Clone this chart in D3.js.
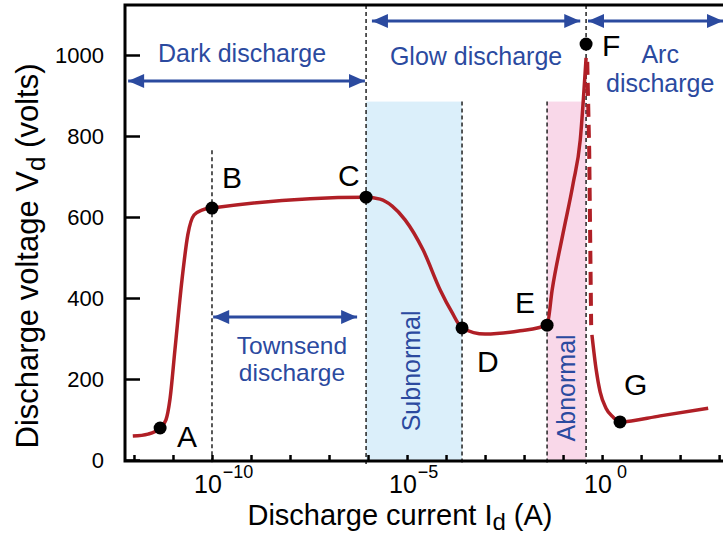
<!DOCTYPE html>
<html>
<head>
<meta charset="utf-8">
<script src="https://cdn.jsdelivr.net/npm/d3@7"></script>
<style>
body { margin: 0; background: #fff; }
text { font-family: "Liberation Sans", Arial, sans-serif; }
</style>
</head>
<body>
<svg id="chart" width="723" height="537"></svg>
<script>
// V-I curve of a gas discharge (current as log10 of amps)
var mainLogI = [-12.03, -11.64, -11.33, -11.18, -11.08, -10.95, -10.77, -10.62, -10.46, -10.26, -10,
    -6.05, -5.69, -5.38, -5.05, -4.59, -4.15, -3.85, -3.59, -3.0, -2.10, -1.41,
    -1.28, -1.0, -0.74, -0.56, -0.41];
var mainV = [59, 64, 79, 99, 148, 272, 444, 556, 605, 617, 622,
    649, 644, 627, 593, 519, 420, 365, 326, 311, 319, 333,
    420, 560, 684, 790, 993];
// dashed jump F -> arc
var dashLogI = [-0.38, -0.33, -0.28];
var dashV = [983, 765, 333];
// arc branch
var arcLogI = [-0.26, -0.15, -0.05, 0.10, 0.28, 0.46, 1.49, 2.72];
var arcV = [309, 222, 168, 128, 106, 94, 109, 128];

// named points
var pointNames = ["A", "B", "C", "D", "E", "F", "G"];
var pointLogI = [-11.33, -10, -6.05, -3.59, -1.41, -0.41, 0.46];
var pointV = [79, 622, 649, 326, 333, 1027, 94];

// ticks
var yTicks = [0, 200, 400, 600, 800, 1000];
var xTickExp = [-12, -11, -10, -9, -8, -7, -6, -5, -4, -3, -2, -1, 0, 1, 2, 3];
var xLabelExp = [-10, -5, 0];

// region borders (log10 I) and tops (V), null = to the frame top
var borderLogI = [-10, -6.05, -3.59, -1.41, -0.41];
var borderTopV = [765, null, 885, 885, null];

// shaded bands
var bandNames = ["Subnormal", "Abnormal"];
var bandFrom = [-6.05, -1.41];
var bandTo = [-3.59, -0.41];
var bandTopV = [885, 885];

// double arrows
var arrowFrom = [-12.15, -5.9, -0.36, -9.97];
var arrowTo = [-6.08, -0.56, 3.1, -6.28];
var arrowV = [936, 1084, 1084, 353];

var blue = "#2b4a9f", red = "#b01f26";

var svg = d3.select("#chart");

var x = d3.scaleLog().domain([Math.pow(10, -12.23), Math.pow(10, 3.1)]).range([125, 723]);
var y = d3.scaleLinear().domain([0, 1000]).range([460, 55]);
var yTop = 5, yBottom = 461;

function toPts(logs, vs) {
    return logs.map(function (l, i) { return [Math.pow(10, l), vs[i]]; });
}
function xl(l) { return x(Math.pow(10, l)); }

// bands
svg.selectAll(".band")
    .data(bandNames)
    .enter().append("rect")
    .attr("class", "band")
    .attr("x", function (d, i) { return xl(bandFrom[i]); })
    .attr("width", function (d, i) { return xl(bandTo[i]) - xl(bandFrom[i]); })
    .attr("y", function (d, i) { return y(bandTopV[i]); })
    .attr("height", function (d, i) { return yBottom - y(bandTopV[i]); })
    .attr("fill", function (d, i) { return i == 0 ? "#dbeffa" : "#f9d8e9"; });

// dashed region borders
svg.selectAll(".border")
    .data(borderLogI)
    .enter().append("line")
    .attr("class", "border")
    .attr("x1", function (d) { return xl(d); })
    .attr("x2", function (d) { return xl(d); })
    .attr("y1", function (d, i) { return borderTopV[i] == null ? yTop : y(borderTopV[i]); })
    .attr("y2", yBottom + 4)
    .attr("stroke", "#222")
    .attr("stroke-width", 1.5)
    .attr("stroke-dasharray", "4,3");

// curve
var lineSmooth = d3.line()
    .x(function (d) { return x(d[0]); })
    .y(function (d) { return y(d[1]); })
    .curve(d3.curveMonotoneX);
var lineStraight = d3.line()
    .x(function (d) { return x(d[0]); })
    .y(function (d) { return y(d[1]); });

svg.append("path")
    .attr("d", lineSmooth(toPts(mainLogI, mainV)))
    .attr("fill", "none").attr("stroke", red).attr("stroke-width", 3.5)
    .attr("stroke-linejoin", "round");
svg.append("path")
    .attr("d", lineStraight(toPts(dashLogI, dashV)))
    .attr("fill", "none").attr("stroke", red).attr("stroke-width", 4)
    .attr("stroke-dasharray", "13,8");
svg.append("path")
    .attr("d", lineSmooth(toPts(arcLogI, arcV)))
    .attr("fill", "none").attr("stroke", red).attr("stroke-width", 3.5);

// points + letters
var labelDx = [17, 10, -28, 15, -32, 16, 4];
var labelDy = [19, -20, -11, 44, -12, 12, -27];
svg.selectAll(".pt")
    .data(pointNames)
    .enter().append("circle")
    .attr("class", "pt")
    .attr("cx", function (d, i) { return xl(pointLogI[i]); })
    .attr("cy", function (d, i) { return y(pointV[i]); })
    .attr("r", 6.5)
    .attr("fill", "#000");
svg.selectAll(".ptlabel")
    .data(pointNames)
    .enter().append("text")
    .attr("class", "ptlabel")
    .attr("x", function (d, i) { return xl(pointLogI[i]) + labelDx[i]; })
    .attr("y", function (d, i) { return y(pointV[i]) + labelDy[i]; })
    .attr("font-size", 30)
    .attr("fill", "#000")
    .text(function (d) { return d; });

// arrows
var defs = svg.append("defs");
["arrEnd", "arrStart"].forEach(function (id, k) {
    defs.append("marker")
        .attr("id", id)
        .attr("markerUnits", "userSpaceOnUse")
        .attr("markerWidth", 18).attr("markerHeight", 16)
        .attr("refX", k == 0 ? 16 : 0).attr("refY", 8)
        .attr("orient", "auto")
        .append("path")
        .attr("d", k == 0 ? "M0,1 L16,8 L0,15 Z" : "M16,1 L0,8 L16,15 Z")
        .attr("fill", blue);
});
svg.selectAll(".arrow")
    .data(arrowV)
    .enter().append("line")
    .attr("class", "arrow")
    .attr("x1", function (d, i) { return xl(arrowFrom[i]); })
    .attr("x2", function (d, i) { return xl(arrowTo[i]); })
    .attr("y1", function (d) { return y(d); })
    .attr("y2", function (d) { return y(d); })
    .attr("stroke", blue).attr("stroke-width", 3)
    .attr("marker-start", "url(#arrStart)")
    .attr("marker-end", "url(#arrEnd)");

// region texts
function blueText(lines, logI, vs, size) {
    lines.forEach(function (t, i) {
        svg.append("text")
            .attr("x", xl(logI))
            .attr("y", y(vs[i]))
            .attr("text-anchor", "middle")
            .attr("font-size", size)
            .attr("fill", blue)
            .text(t);
    });
}
blueText(["Dark discharge"], -9.23, [983], 25);
blueText(["Glow discharge"], -3.23, [975], 25);
blueText(["Arc", "discharge"], 1.49, [980, 909], 25);
blueText(["Townsend", "discharge"], -7.95, [262, 195], 24.5);

var bandTextLogI = [-4.67, -0.69];
var bandTextV = [220, 178];
svg.selectAll(".bandtext")
    .data(bandNames)
    .enter().append("text")
    .attr("class", "bandtext")
    .attr("transform", function (d, i) {
        return "translate(" + xl(bandTextLogI[i]) + "," + y(bandTextV[i]) + ") rotate(-90)";
    })
    .attr("text-anchor", "middle")
    .attr("font-size", 25)
    .attr("fill", blue)
    .text(function (d) { return d; });

// axes
var xAxis = svg.append("g")
    .attr("transform", "translate(0," + yBottom + ")")
    .call(d3.axisBottom(x)
        .tickValues(xTickExp.map(function (e) { return Math.pow(10, e); }))
        .tickSizeInner(-6).tickSizeOuter(0)
        .tickFormat(""));
xAxis.select(".domain").remove();
xAxis.selectAll(".tick line").attr("stroke", "#000").attr("stroke-width", 2.5);

var yAxis = svg.append("g")
    .attr("transform", "translate(125,0)")
    .call(d3.axisLeft(y)
        .tickValues(yTicks)
        .tickFormat(d3.format("d"))
        .tickSizeInner(-15).tickSizeOuter(0)
        .tickPadding(21));
yAxis.select(".domain").remove();
yAxis.selectAll(".tick line").attr("stroke", "#000").attr("stroke-width", 2.5);
yAxis.selectAll(".tick text")
    .attr("font-family", "Liberation Sans, Arial, sans-serif")
    .attr("font-size", 22).attr("fill", "#000");

// frame: top, left, bottom
svg.append("path")
    .attr("d", "M725," + yTop + "H125V" + yBottom + "H725")
    .attr("fill", "none").attr("stroke", "#000").attr("stroke-width", 3);

// x tick labels 10^n
xLabelExp.forEach(function (e) {
    var t = svg.append("text")
        .attr("x", xl(e) - 18)
        .attr("y", 493)
        .attr("font-size", 25)
        .attr("fill", "#000");
    t.append("tspan").text("10");
    t.append("tspan")
        .attr("dy", -15)
        .attr("dx", e == 0 ? 5 : 1)
        .attr("font-size", 18)
        .text(e == 0 ? "0" : "\u2212" + Math.abs(e));
});

// axis titles
var xt = svg.append("text")
    .attr("x", 400).attr("y", 525)
    .attr("text-anchor", "middle")
    .attr("font-size", 29)
    .attr("fill", "#000");
xt.append("tspan").text("Discharge current I");
xt.append("tspan").attr("dy", 5).attr("font-size", 24).text("d");
xt.append("tspan").attr("dy", -5).text(" (A)");

var yt = svg.append("text")
    .attr("transform", "translate(38,256) rotate(-90)")
    .attr("text-anchor", "middle")
    .attr("font-size", 31)
    .attr("fill", "#000");
yt.append("tspan").text("Discharge voltage V");
yt.append("tspan").attr("dy", 7).attr("font-size", 26).text("d");
yt.append("tspan").attr("dy", -7).text(" (volts)");
</script>
</body>
</html>
